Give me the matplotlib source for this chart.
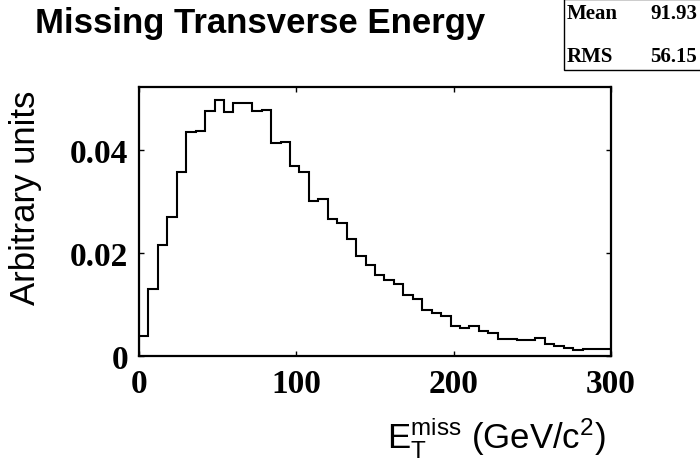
import matplotlib
matplotlib.use("Agg")
import matplotlib.pyplot as plt
import numpy as np

plt.rcParams['mathtext.fontset'] = 'custom'
plt.rcParams['mathtext.rm'] = 'Liberation Sans'
plt.rcParams['mathtext.it'] = 'Liberation Sans:italic'

# 50 bins of 6 GeV from 0 to 300
bin_edges = np.linspace(0, 300, 51)
met_values = [0.0039, 0.0130, 0.0216, 0.0270, 0.0357, 0.0434, 0.0436, 0.0475, 0.0497, 0.0473,
              0.0490, 0.0490, 0.0475, 0.0477, 0.0413, 0.0415, 0.0368, 0.0357, 0.0301, 0.0304,
              0.0266, 0.0258, 0.0228, 0.0195, 0.0177, 0.0158, 0.0147, 0.0139, 0.0119, 0.0110,
              0.0089, 0.0084, 0.0077, 0.0059, 0.0054, 0.0058, 0.0048, 0.0045, 0.0033, 0.0033,
              0.0032, 0.0032, 0.0035, 0.0024, 0.0020, 0.0016, 0.0012, 0.0013, 0.0013, 0.0013]
x_ticks = [0, 100, 200, 300]
y_ticks = [0, 0.02, 0.04]
y_ticklabels = ["0", "0.02", "0.04"]
stats = [("Mean", "91.93"), ("RMS", "56.15")]

W, H = 700, 464
fig = plt.figure(figsize=(7, 4.64), dpi=100)
ax = fig.add_axes([139 / W, 1 - 357 / H, (611 - 139) / W, (357 - 88) / H])

ax.stairs(met_values, bin_edges, baseline=0, color='black', linewidth=1.5)

ax.set_xlim(0, 300)
ax.set_ylim(0, 0.0522)
ax.set_xticks(x_ticks)
ax.set_yticks(y_ticks)
ax.set_yticklabels(y_ticklabels)
ax.tick_params(direction='in', top=True, right=True, length=3.5, width=1)
ax.tick_params(axis='x', pad=9)
ax.tick_params(axis='y', pad=8)
for lab in ax.get_xticklabels() + ax.get_yticklabels():
    lab.set_family('Liberation Serif')
    lab.set_weight('bold')
    lab.set_size(24)
for sp in ax.spines.values():
    sp.set_linewidth(1.6)

fig.text(26 / W, 1 - 198 / H, "Arbitrary units", family='Liberation Sans', fontsize=25,
         rotation=90, ha='center', va='center')
fig.text(606 / W, 1 - 449 / H, r"$\mathrm{E_T^{miss}}$ (GeV/c$^2$)", family='Liberation Sans',
         fontsize=25, ha='right', va='baseline')

fig.text(35 / W, 1 - 33 / H, "Missing Transverse Energy", family='Liberation Sans', weight='bold',
         fontsize=25, va='baseline', ha='left')

# stats box
box = plt.Rectangle((564 / W, 1 - 71 / H), 140 / W, 71 / H, transform=fig.transFigure,
                    facecolor='white', edgecolor='black', linewidth=1)
fig.patches.append(box)
for i, (name, val) in enumerate(stats):
    yy = 1 - (14 + 43 * i) / H
    fig.text(567 / W, yy, name, family='Liberation Serif', weight='bold', fontsize=15, va='center')
    fig.text(697 / W, yy, val, family='Liberation Serif', weight='bold', fontsize=15, va='center', ha='right')

fig.savefig("out.png", dpi=100)
